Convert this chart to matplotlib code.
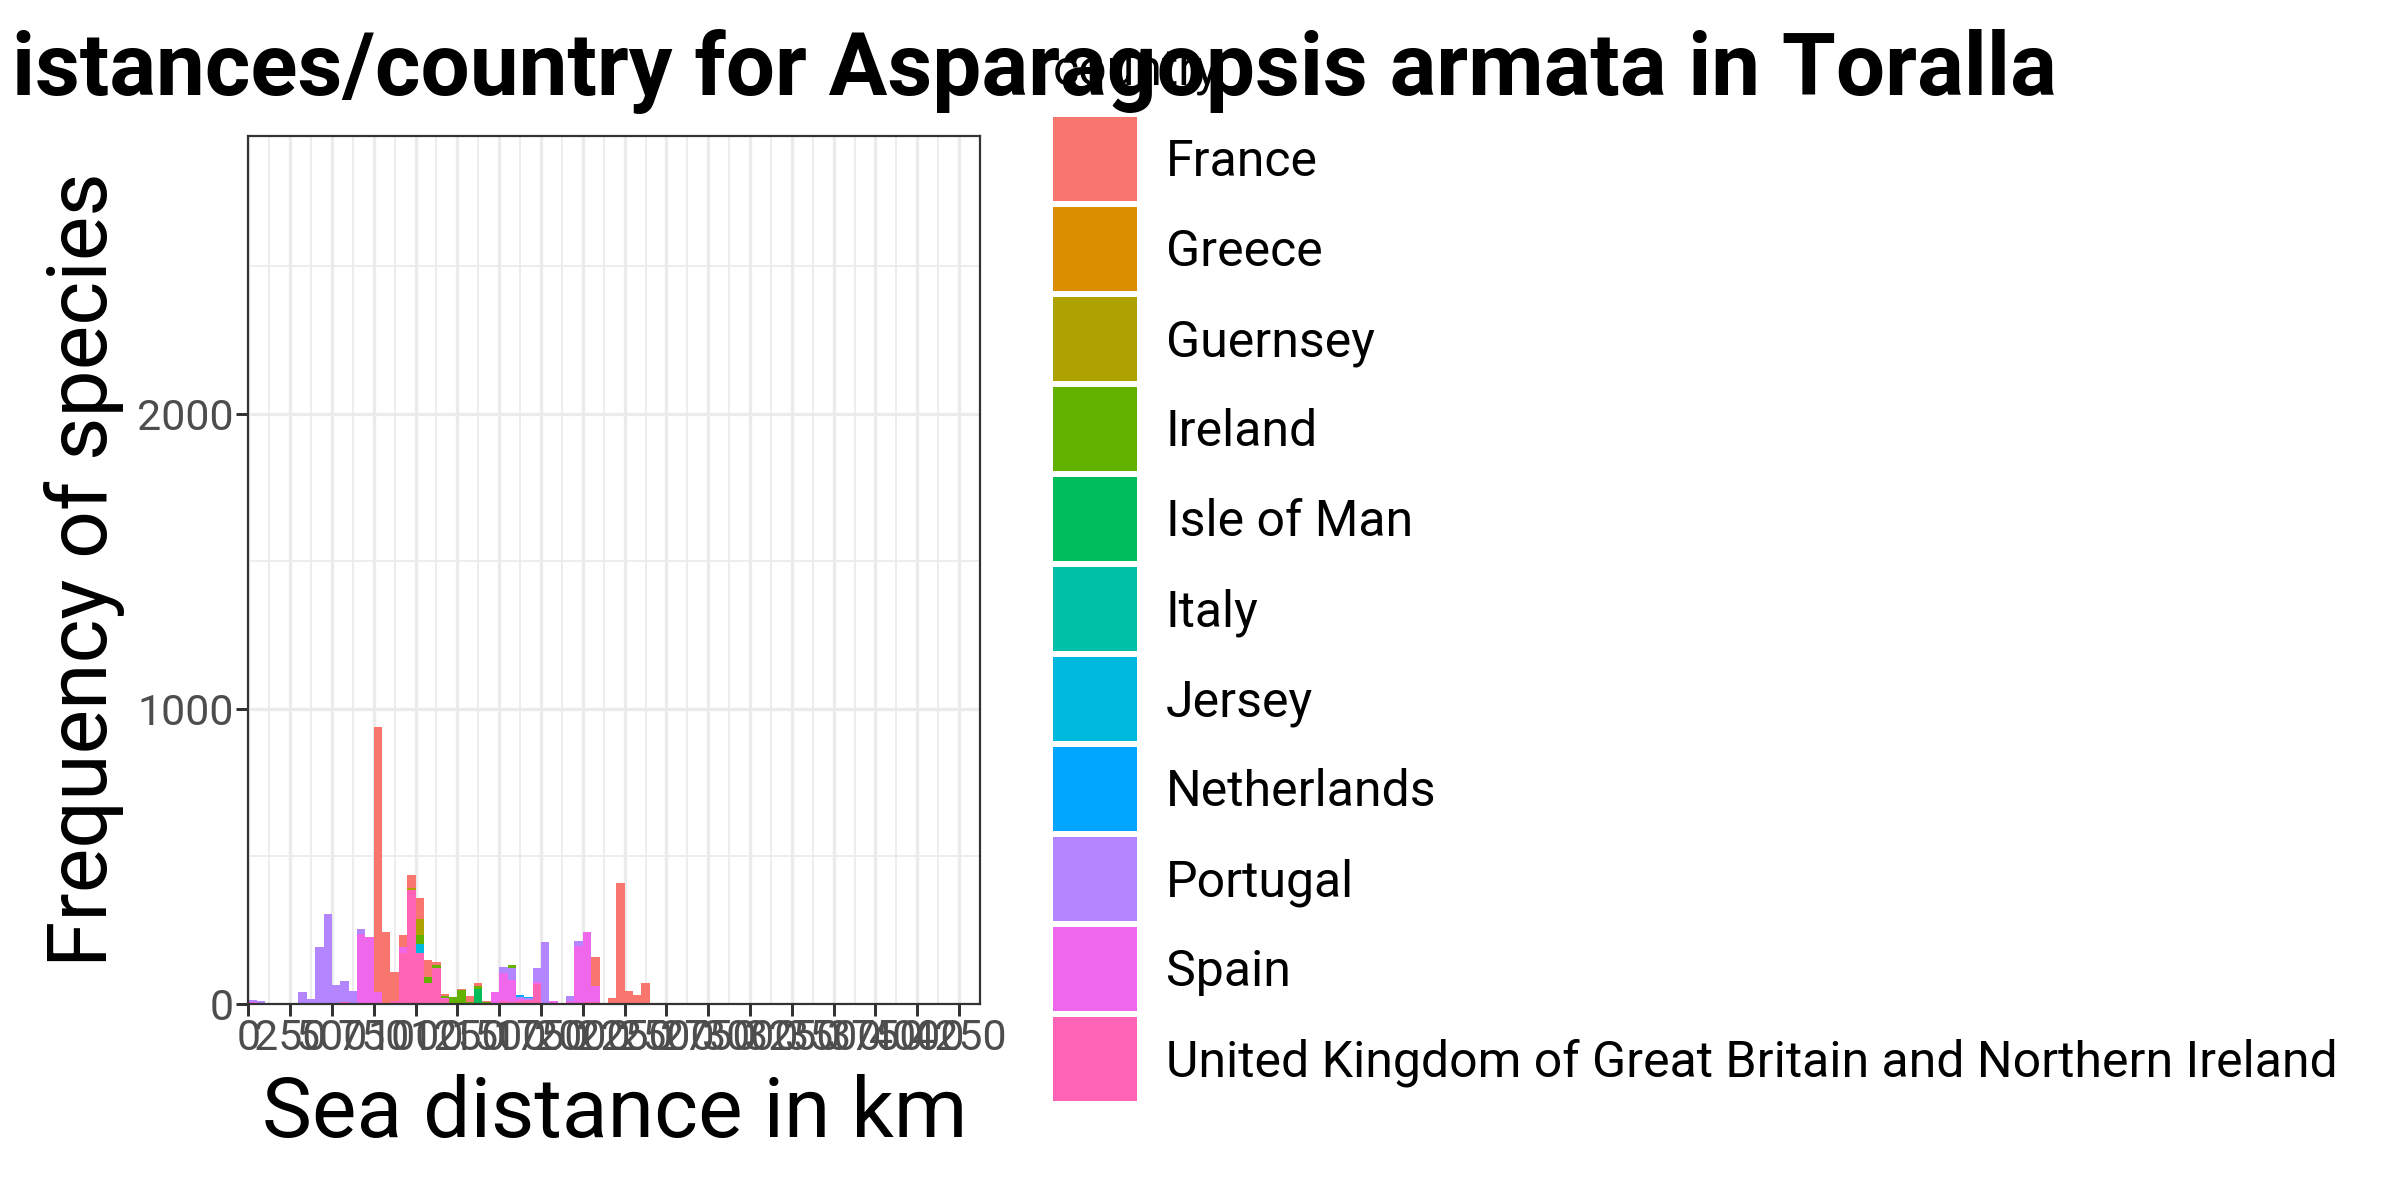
import matplotlib
matplotlib.use("Agg")
import matplotlib.pyplot as plt
from matplotlib.patches import Rectangle
import numpy as np

plt.rcParams["font.family"] = ["Roboto", "DejaVu Sans"]

# ---------------- data ----------------
bin_width = 50
bin_starts = list(range(0, 2400, 50))          # 48 bins: 0 .. 2350 km

countries = ["France", "Greece", "Guernsey", "Ireland", "Isle of Man", "Italy",
             "Jersey", "Netherlands", "Portugal", "Spain",
             "United Kingdom of Great Britain and Northern Ireland"]
colors = ["#F8766D", "#DB8E00", "#AEA200", "#64B200", "#00BD5C", "#00C1A7",
          "#00BADE", "#00A6FF", "#B385FF", "#EF67EB", "#FF63B6"]

# counts per country, keyed by bin start (km)
france = {750: 899, 800: 241, 850: 96, 900: 42, 950: 44, 1000: 74, 1050: 58,
          1100: 10, 1150: 7, 1250: 4, 1300: 20, 1350: 8, 1400: 5, 2050: 101,
          2150: 17, 2200: 410, 2250: 41, 2300: 28, 2350: 68}
greece = {}
guernsey = {950: 9, 1000: 54}
ireland = {1000: 29, 1050: 21, 1100: 9, 1150: 4, 1200: 21, 1250: 46, 1300: 5,
           1350: 12, 1400: 5, 1550: 9}
isle_of_man = {1350: 48}
italy = {}
jersey = {1000: 32}
netherlands = {1600: 5, 1650: 3}
portugal = {0: 8, 50: 7, 300: 38, 350: 14, 400: 190, 450: 305, 500: 62, 550: 74,
            600: 41, 650: 14, 1500: 21, 1550: 39, 1600: 8, 1650: 6, 1700: 45,
            1750: 210, 1900: 14, 1950: 17}
spain = {0: 4, 650: 237, 700: 227, 750: 40, 900: 18, 1150: 5, 1450: 38, 1500: 95,
         1550: 77, 1600: 5, 1700: 9, 1800: 10, 1900: 10, 1950: 196, 2000: 236,
         2050: 54}
united_kingdom = {550: 4, 850: 10, 900: 172, 950: 384, 1000: 170, 1050: 69,
                  1100: 121, 1150: 15, 1500: 8, 1550: 4, 1600: 10, 1650: 13,
                  1700: 65, 2000: 5, 2050: 4}

series = [france, greece, guernsey, ireland, isle_of_man, italy, jersey,
          netherlands, portugal, spain, united_kingdom]

x_ticks = list(range(0, 4251, 250))
y_ticks = [0, 1000, 2000]

title_text = "istances/country for Asparagopsis armata in Toralla"
x_label = "Sea distance in km"
y_label = "Frequency of species"
legend_title = "country"

# ---------------- figure ----------------
W, H, DPI = 2400, 1200, 200
PX = 72.0 / DPI   # points per pixel
fig = plt.figure(figsize=(W / DPI, H / DPI), dpi=DPI)
fig.patch.set_facecolor("white")

left_px, right_px = 248.3, 980.0
top_px, bottom_px = 135.7, 1003.5
ax = fig.add_axes([left_px / W, 1 - bottom_px / H,
                   (right_px - left_px) / W, (bottom_px - top_px) / H])
ax.set_facecolor("white")

# stacked bars: first level on top, last level at bottom (ggplot stacking)
bottoms = np.zeros(len(bin_starts))
for name, col, data in reversed(list(zip(countries, colors, series))):
    vals = np.array([data.get(b, 0) for b in bin_starts], dtype=float)
    if vals.sum() > 0:
        ax.bar(bin_starts, vals, width=bin_width, bottom=bottoms, align="edge",
               color=col, linewidth=0, zorder=2)
    bottoms += vals

ax.set_xlim(0, 4341)
ax.set_ylim(0, 2943)

ax.set_xticks(x_ticks)
ax.set_xticklabels([str(t) for t in x_ticks])
ax.set_xticks([t + 125 for t in x_ticks], minor=True)
ax.set_yticks(y_ticks)
ax.set_yticklabels([str(t) for t in y_ticks])
ax.set_yticks([500, 1500, 2500], minor=True)

ax.grid(which="major", color="#EBEBEB", linewidth=3.2 * PX, zorder=0)
ax.grid(which="minor", color="#EBEBEB", linewidth=1.7 * PX, zorder=0)
ax.set_axisbelow(True)

tick_fs = 43 * PX
ax.tick_params(axis="both", which="major", length=12 * PX, width=3 * PX,
               color="#333333", labelcolor="#4D4D4D", labelsize=tick_fs)
ax.tick_params(axis="x", which="major", pad=1.0)
ax.tick_params(axis="y", which="major", pad=0.8)
ax.tick_params(which="minor", length=0)

for sp in ax.spines.values():
    sp.set_color("#333333")
    sp.set_linewidth(2.2 * PX)
    sp.set_zorder(3)

# title (clipped on the left in the original)
fig.text(11.5 / W, 1 - 95 / H, title_text, fontsize=87.3 * PX, fontweight="bold",
         ha="left", va="baseline", color="black")

# axis titles
fig.text(614.6 / W, 1 - 1137 / H, x_label, fontsize=84 * PX, ha="center",
         va="baseline", color="black")
fig.text(107 / W, 1 - 570 / H, y_label, fontsize=84 * PX, rotation=90,
         rotation_mode="anchor", ha="center", va="baseline", color="black")

# legend
leg_fs = 50 * PX
fig.text(1053 / W, 1 - 85 / H, legend_title, fontsize=leg_fs, ha="left",
         va="baseline", color="black")
key_x, key_size, key_top, key_step = 1052.7, 84.3, 116.7, 90.0
for i, (name, col) in enumerate(zip(countries, colors)):
    top = key_top + i * key_step
    fig.add_artist(Rectangle((key_x / W, 1 - (top + key_size) / H),
                             key_size / W, key_size / H,
                             transform=fig.transFigure, facecolor=col,
                             edgecolor="none"))
    fig.text(1166 / W, 1 - (top + key_size / 2 + 17.5) / H, name,
             fontsize=leg_fs, ha="left", va="baseline", color="black")

fig.savefig("out.png", dpi=DPI, facecolor="white")
